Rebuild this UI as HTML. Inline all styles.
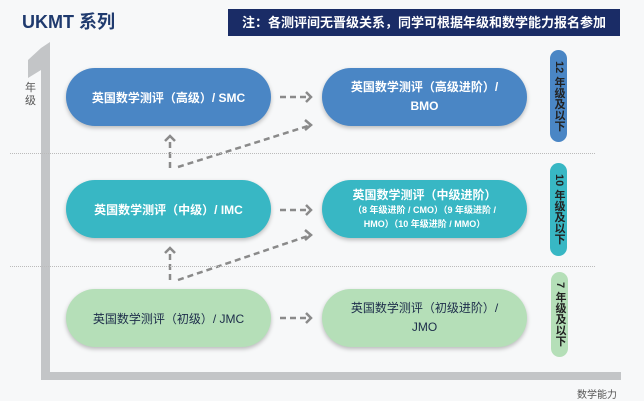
<!DOCTYPE html>
<html><head><meta charset="utf-8"><style>
body{margin:0;width:644px;height:401px;overflow:hidden;background:#f7f8f9;font-family:"Liberation Sans","Noto Sans CJK SC",sans-serif;position:relative}
.a{position:absolute}
.pill{position:absolute;border-radius:30px;display:flex;align-items:center;justify-content:center;text-align:center;font-weight:bold;color:#fff;box-shadow:0 2px 4px rgba(0,0,0,.25)}
.tag{position:absolute;width:17px;border-radius:9px;color:#222;font-weight:bold;font-size:11px;writing-mode:vertical-rl;display:flex;align-items:center;justify-content:center;line-height:17px}
.dot{position:absolute;left:10px;width:585px;border-top:1px dotted #bbb}
</style></head><body>
<div class="a" style="left:22px;top:8px;font-size:18px;font-weight:bold;color:#1f3a6e">UKMT 系列</div>
<div class="a" style="left:228px;top:9px;width:392px;height:27px;background:#1a2c66;color:#fff;font-size:13px;font-weight:bold;line-height:27px;text-align:center">注：各测评间无晋级关系，同学可根据年级和数学能力报名参加</div>
<svg class="a" style="left:0;top:0" width="644" height="401">
<polygon points="41,48 50,42 50,372 41,372 41,70 28,78 28,60" fill="#c3c5c7"/>
<rect x="41" y="372" width="580" height="8" fill="#c3c5c7"/>
<g stroke="#8a8a8a" stroke-width="2.5" stroke-dasharray="6,4" fill="none">
<line x1="280" y1="97" x2="308" y2="97"/><line x1="280" y1="210" x2="308" y2="210"/><line x1="280" y1="318" x2="308" y2="318"/>
<line x1="170" y1="168" x2="170" y2="140"/><line x1="170" y1="280" x2="170" y2="252"/>
<line x1="178" y1="167" x2="308" y2="126"/><line x1="178" y1="280" x2="308" y2="236"/>
</g>
<g stroke="#8a8a8a" stroke-width="2.5" fill="none">
<polyline points="306,92 311,97 306,102"/><polyline points="306,205 311,210 306,215"/><polyline points="306,313 311,318 306,323"/>
<polyline points="165,141 170,136 175,141"/><polyline points="165,253 170,248 175,253"/>
<polyline points="305,120 311,125 305,130"/><polyline points="305,230 311,235 305,240"/>
</g>
</svg>
<div class="a" style="left:25px;top:82px;width:12px;font-size:11px;color:#555;line-height:13px">年级</div>
<div class="a" style="left:577px;top:386px;font-size:10px;color:#555">数学能力</div>
<div class="dot" style="top:153px"></div><div class="dot" style="top:266px"></div>
<div class="pill" style="left:66px;top:68px;width:205px;height:58px;background:#4a86c5;font-size:12px">英国数学测评（高级）/ SMC</div>
<div class="pill" style="left:322px;top:68px;width:205px;height:58px;background:#4a86c5;font-size:12px;line-height:19px">英国数学测评（高级进阶）/<br>BMO</div>
<div class="pill" style="left:66px;top:180px;width:205px;height:58px;background:#38b7c4;font-size:12px">英国数学测评（中级）/ IMC</div>
<div class="pill" style="left:322px;top:180px;width:205px;height:58px;background:#38b7c4;font-size:9px;line-height:14px"><div><span style="font-size:12px">英国数学测评（中级进阶）</span><br>（8 年级进阶 / CMO）（9 年级进阶 /<br>HMO）（10 年级进阶 / MMO）</div></div>
<div class="pill" style="left:66px;top:289px;width:205px;height:58px;background:#b5dfb8;color:#1d2d4a;font-weight:normal;font-size:12px">英国数学测评（初级）/ JMC</div>
<div class="pill" style="left:322px;top:289px;width:205px;height:58px;background:#b5dfb8;color:#1d2d4a;font-weight:normal;font-size:12px;line-height:19px">英国数学测评（初级进阶）/<br>JMO</div>
<div class="tag" style="left:550px;top:50px;height:92px;background:#4a86c5">12 年级及以下</div>
<div class="tag" style="left:550px;top:163px;height:93px;background:#38b7c4">10 年级及以下</div>
<div class="tag" style="left:551px;top:272px;height:85px;background:#b5dfb8">7 年级及以下</div>
</body></html>
